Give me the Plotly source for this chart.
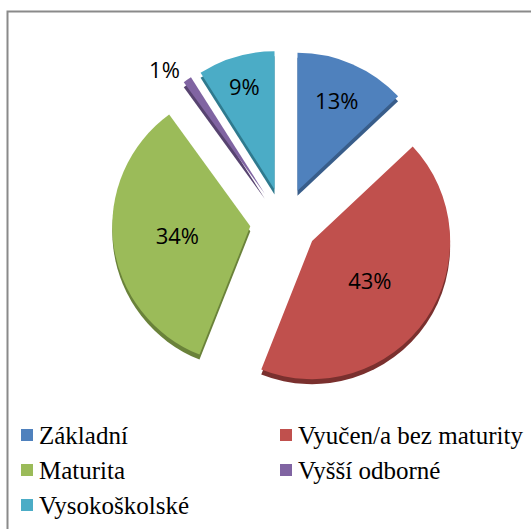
import plotly.graph_objects as go

labels = ["Základní", "Vyučen/a bez maturity", "Maturita", "Vyšší odborné", "Vysokoškolské"]
values = [13, 43, 34, 1, 9]
colors = ["#4F81BD", "#C0504D", "#9BBB59", "#8064A2", "#4BACC6"]
side_colors = ["#385D8A", "#7A302E", "#6A823A", "#574370", "#2F7A8E"]
text_positions = ["inside", "inside", "inside", "outside", "inside"]

W, H = 531, 529
PULL = 0.246

# pie domain in pixels
px0, px1 = 112.0, 456.0
py_top, py_bot = 50.0, 394.0
depth = 5.0

fig = go.Figure()
# 3D side (darker copy shifted down)
fig.add_trace(go.Pie(
    labels=labels, values=values, sort=False, direction="clockwise", rotation=0,
    pull=[PULL] * len(values),
    marker=dict(colors=side_colors, line=dict(width=0)),
    textinfo="none", hoverinfo="skip", showlegend=False,
    domain=dict(x=[px0 / W, px1 / W], y=[1 - (py_bot + depth) / H, 1 - (py_top + depth) / H]),
))
fig.add_trace(go.Pie(
    labels=labels,
    values=values,
    sort=False,
    direction="clockwise",
    rotation=0,
    pull=[PULL] * len(values),
    marker=dict(colors=colors, line=dict(width=0)),
    textinfo="percent",
    texttemplate="%{percent:.0%}",
    textposition=text_positions,
    insidetextorientation="horizontal",
    textfont=dict(family="Open Sans", size=22, color="black"),
    domain=dict(x=[px0 / W, px1 / W], y=[1 - py_bot / H, 1 - py_top / H]),
    showlegend=False,
    hoverinfo="label+percent",
))

shapes = [dict(type="rect", xref="paper", yref="paper",
               x0=7.5 / W, x1=1 + 3 / W, y0=-3 / H, y1=1 - 11.5 / H,
               line=dict(color="#8a8a8a", width=2), fillcolor="rgba(0,0,0,0)", layer="below")]
annotations = []
col_x = [21, 280]
row_y = [435, 470, 505]
for i, lab in enumerate(labels):
    cx = col_x[i % 2]
    cy = row_y[i // 2]
    shapes.append(dict(type="rect", xref="paper", yref="paper",
                       x0=cx / W, x1=(cx + 12) / W,
                       y0=1 - (cy + 6) / H, y1=1 - (cy - 6) / H,
                       line=dict(width=0), fillcolor=colors[i]))
    annotations.append(dict(xref="paper", yref="paper", x=(cx + 16) / W, y=1 - cy / H,
                            xanchor="left", yanchor="middle", showarrow=False,
                            text=lab,
                            font=dict(family="Liberation Serif, Times New Roman, serif", size=25, color="black")))

fig.update_layout(
    width=W, height=H,
    margin=dict(l=0, r=0, t=0, b=0, autoexpand=False),
    paper_bgcolor="white",
    plot_bgcolor="white",
    shapes=shapes,
    annotations=annotations,
)

fig.write_html(
    "out.html",
    config={"displayModeBar": False},
    post_script="document.body.style.margin='0';document.body.style.overflow='hidden';"
                "document.documentElement.style.overflow='hidden';",
)
